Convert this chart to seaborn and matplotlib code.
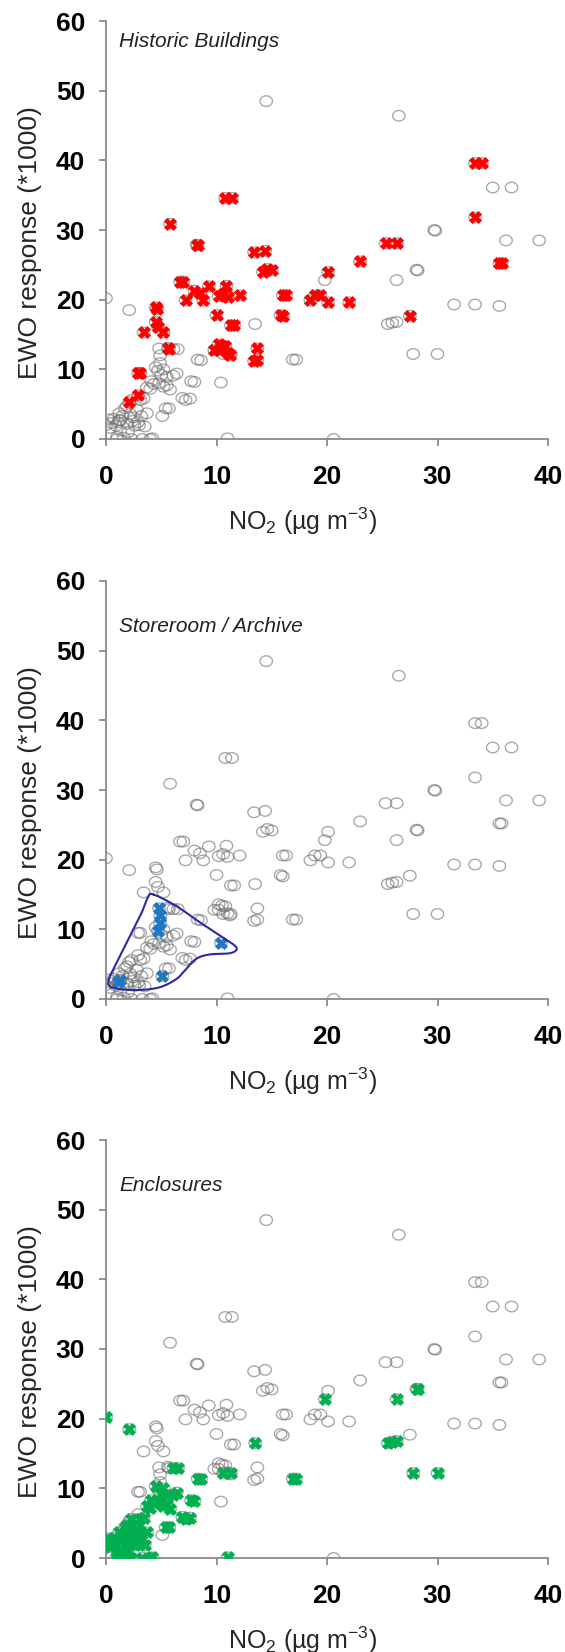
import matplotlib
matplotlib.use('Agg')
import matplotlib.pyplot as plt
import seaborn as sns
import pandas as pd
import numpy as np

# sites where EWO dosimeters were exposed (NO2 in ug/m3, EWO response *1000)
hist_no2 = [2.1, 2.9, 2.9, 3.1, 3.4, 4.5, 4.6, 4.5, 4.7, 5.2, 5.6, 5.7, 5.8, 6.7, 7.0, 7.2,
            8.2, 8.3, 8.0, 8.5, 8.8, 9.3, 10.0, 10.2, 10.6, 11.0, 12.1, 10.9, 9.8, 10.2,
            10.2, 10.5, 10.8, 11.0, 11.2, 10.8, 11.4, 11.3, 11.6, 13.4, 14.4, 14.2, 14.6,
            15.0, 13.4, 13.7, 13.7, 16.0, 16.3, 16.0, 15.8, 18.5, 18.9, 19.4, 20.1, 20.1,
            22.0, 23.0, 25.3, 26.3, 27.5, 33.4, 34.0, 33.4, 35.6, 35.8]
hist_ewo = [5.3, 6.3, 9.5, 9.5, 15.3, 18.9, 18.6, 16.8, 16.1, 15.3, 13.1, 12.9, 30.9, 22.6,
            22.6, 19.9, 27.9, 27.8, 21.3, 20.9, 19.9, 21.9, 17.8, 20.5, 20.8, 20.4, 20.6,
            22.0, 12.8, 12.8, 13.6, 13.4, 13.3, 12.3, 12.0, 34.6, 34.6, 16.3, 16.3, 26.8,
            27.0, 24.0, 24.4, 24.2, 11.2, 11.4, 13.0, 20.6, 20.6, 17.6, 17.8, 19.9, 20.6,
            20.6, 24.0, 19.6, 19.6, 25.5, 28.1, 28.1, 17.7, 39.6, 39.6, 31.8, 25.2, 25.2]

store_no2 = [1.3, 1.1, 4.8, 4.9, 4.9, 4.7, 5.1, 10.4]
store_ewo = [2.7, 2.4, 13.0, 12.0, 10.9, 9.8, 3.3, 8.1]

encl_no2 = [0.0, 2.1, 13.5, 16.9, 17.2, 19.8, 25.5, 25.9, 26.3, 26.3, 28.1, 28.2, 27.8, 30.0,
            11.0, 10.6, 11.3, 8.3, 8.6, 7.7, 8.0, 6.1, 6.5, 6.4, 6.9, 7.2, 7.6, 5.4, 5.7,
            0.0, 0.2, 0.4, 0.5, 0.7, 0.9, 1.0, 1.0, 1.2, 1.2, 1.3, 1.5, 1.6, 1.7, 1.9, 1.9,
            2.0, 2.2, 2.3, 2.3, 2.4, 2.5, 2.6, 2.8, 2.9, 3.0, 3.1, 3.2, 3.3, 3.4, 3.5, 3.7,
            4.0, 4.2, 3.7, 4.0, 4.1, 4.3, 4.5, 4.8, 5.0, 5.2, 5.5, 5.5, 5.8, 6.1, 5.2]
encl_ewo = [20.2, 18.5, 16.5, 11.4, 11.4, 22.8, 16.5, 16.7, 16.8, 22.8, 24.3, 24.2, 12.2, 12.2,
            0.1, 12.2, 12.2, 11.4, 11.3, 8.3, 8.2, 12.9, 12.9, 9.4, 5.9, 5.6, 5.8, 4.4, 4.4,
            2.0, 2.8, 1.6, 2.3, 2.9, 1.9, 0.3, 0.0, 3.7, 2.7, 1.2, 3.3, 0.2, 4.4, 4.7, 2.2,
            1.0, 3.6, 5.6, 0.0, 2.6, 3.1, 1.9, 4.2, 2.4, 2.0, 5.6, 3.3, 0.0, 5.8, 1.8, 3.7,
            0.0, 0.1, 7.4, 7.2, 8.3, 7.9, 10.3, 8.0, 9.2, 7.5, 7.7, 8.9, 7.1, 9.1, 10.0]

other_no2 = [14.5, 26.5, 35.0, 36.7, 29.7, 29.8, 36.2, 39.2, 31.5, 33.4, 35.6, 20.6]
other_ewo = [48.5, 46.4, 36.1, 36.1, 30.0, 29.9, 28.5, 28.5, 19.3, 19.3, 19.1, 0.0]

# hand drawn outline around the storeroom group (corner points)
outline_no2 = [4.3, 6.4, 8.5, 10.6, 11.8, 11.3, 9.4, 8.2, 7.3, 6.4, 4.9, 3.1, 1.3, 0.3, 0.3,
               0.8, 2.0, 3.2, 3.8]
outline_ewo = [15.0, 13.3, 11.0, 8.8, 7.4, 6.6, 6.4, 5.8, 4.4, 2.9, 1.7, 1.3, 1.4, 1.9, 3.0,
               4.7, 8.5, 12.3, 14.6]

df_all = pd.DataFrame({'no2': hist_no2 + store_no2 + encl_no2 + other_no2,
                       'ewo': hist_ewo + store_ewo + encl_ewo + other_ewo})
df_hist = pd.DataFrame({'no2': hist_no2, 'ewo': hist_ewo})
df_store = pd.DataFrame({'no2': store_no2, 'ewo': store_ewo})
df_encl = pd.DataFrame({'no2': encl_no2, 'ewo': encl_ewo})


def smooth_closed(xs, ys, n=12):
    # catmull-rom through the outline corners so the loop looks hand drawn
    p = np.array(list(zip(xs, ys)))
    k = len(p)
    out = []
    for i in range(k):
        p0, p1, p2, p3 = p[i - 1], p[i], p[(i + 1) % k], p[(i + 2) % k]
        for t in np.linspace(0, 1, n, endpoint=False):
            out.append(0.5 * (2 * p1 + (-p0 + p2) * t + (2 * p0 - 5 * p1 + 4 * p2 - p3) * t ** 2
                              + (-p0 + 3 * p1 - 3 * p2 + p3) * t ** 3))
    out.append(out[0])
    out = np.array(out)
    return out[:, 0], out[:, 1]


sns.set_theme(style='white')
plt.rcParams['font.family'] = ['Liberation Sans', 'DejaVu Sans']
plt.rcParams['mathtext.fontset'] = 'custom'
plt.rcParams['mathtext.rm'] = 'Liberation Sans'
plt.rcParams['mathtext.it'] = 'Liberation Sans:italic'

# slightly flattened circle marker
t = np.linspace(0, 2 * np.pi, 40)
ellipse = list(zip(np.cos(t), 0.85 * np.sin(t)))

axis_col = '#8a8a8a'
panels = [(df_hist, '#ff0000', 'Historic Buildings', 0.952),
          (df_store, '#1f78c1', 'Storeroom / Archive', 0.89),
          (df_encl, '#00b050', 'Enclosures', 0.89)]
bottoms = [1213, 653, 94]

fig = plt.figure(figsize=(5.65, 16.52), dpi=100)
for (dfc, col, title, ty), b in zip(panels, bottoms):
    ax = fig.add_axes([106 / 565, b / 1652, 442 / 565, 418 / 1652])
    sns.scatterplot(x='no2', y='ewo', data=df_all, ax=ax, marker=ellipse, s=80,
                    facecolor='none', edgecolor='#707070', linewidth=1.0, alpha=0.6, zorder=2)
    sns.scatterplot(x='no2', y='ewo', data=dfc, ax=ax, marker='X', s=75,
                    color=col, edgecolor=col, linewidth=0.5, zorder=3)
    if title.startswith('Store'):
        ox, oy = smooth_closed(outline_no2, outline_ewo)
        ax.plot(ox, oy, color='#2a2aa6', lw=1.5, zorder=4)
    ax.set_xlim(0, 40)
    ax.set_ylim(0, 60)
    ax.set_xticks([0, 10, 20, 30, 40])
    ax.set_yticks([0, 10, 20, 30, 40, 50, 60])
    for sp in ['top', 'right']:
        ax.spines[sp].set_visible(False)
    for sp in ['left', 'bottom']:
        ax.spines[sp].set_color(axis_col)
        ax.spines[sp].set_linewidth(1.3)
    ax.tick_params(axis='both', direction='out', length=5, width=1.3, color=axis_col,
                   labelsize=19, labelcolor='black')
    ax.tick_params(axis='x', pad=14, bottom=True)
    ax.tick_params(axis='y', pad=10, left=True)
    for lab in ax.get_xticklabels() + ax.get_yticklabels():
        lab.set_fontweight('bold')
    ax.set_xlabel('NO$_2$ (µg m$^{-3}$)', fontsize=18)
    ax.set_ylabel('EWO response (*1000)', fontsize=19)
    ax.xaxis.set_label_coords(0.446, -0.16)
    ax.yaxis.set_label_coords(-0.145, 0.47)
    ax.text(0.03, ty, title, transform=ax.transAxes, fontsize=15, style='italic',
            va='center', ha='left', color='#222222')

plt.savefig('out.png', dpi=100)
